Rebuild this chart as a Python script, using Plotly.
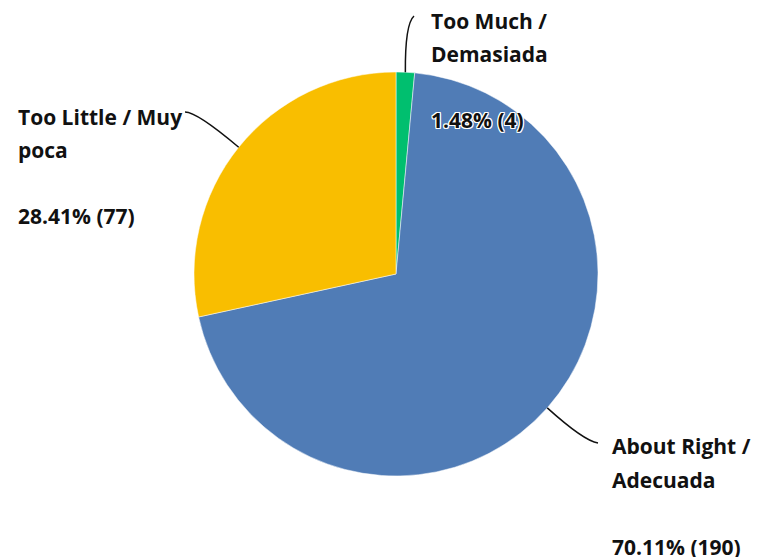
import math
import plotly.graph_objects as go

# ---- data ----
labels = ["Too Much / Demasiada", "About Right / Adecuada", "Too Little / Muy poca"]
name_lines = [["Too Much /", "Demasiada"], ["About Right /", "Adecuada"], ["Too Little / Muy", "poca"]]
counts = [4, 190, 77]
percents = [1.48, 70.11, 28.41]
colors = ["#00BF6F", "#507CB6", "#F9BE00"]

W, H = 761, 557
OFF = 8  # page body margin
cx, cy, R = 396, 274, 202

def px(x, y):
    return (x - OFF) / W, 1 - (y - OFF) / H

x0, y0 = px(cx - R, cy + R)
x1, y1 = px(cx + R, cy - R)

fig = go.Figure(go.Pie(
    labels=labels, values=counts, sort=False, direction="clockwise", rotation=0,
    marker=dict(colors=colors, line=dict(color="white", width=0.5)),
    textinfo="none", hoverinfo="label+percent+value", showlegend=False,
    domain=dict(x=[x0, x1], y=[y0, y1]),
))

# label text anchor (left x, y centers of name lines and percent line) and leader end
text_pos = [(430, [21, 54], 120), (611, [446, 480], 547), (17, [117, 150], 216)]
leader_end = [((414, 16), (405, 24)), ((598, 443), (584, 441)), ((185, 112), (197, 112))]

font = dict(family="Open Sans, Arial, sans-serif", size=21, color="#111111", weight="bold")
shadow = "1px 1px 0 #fff, -1px -1px 0 #fff, 1px -1px 0 #fff, -1px 1px 0 #fff, 0 1px 0 #fff, 0 -1px 0 #fff, 1px 0 0 #fff, -1px 0 0 #fff"

total = sum(counts)
cum = 0
shapes, annotations = [], []
for i, c in enumerate(counts):
    mid = (cum + c / 2) / total * 2 * math.pi
    cum += c
    ex, ey = cx + R * math.sin(mid), cy - R * math.cos(mid)
    (tx, ty), (qx, qy) = leader_end[i]
    p0, q, p1 = px(ex, ey), px(qx, qy), px(tx, ty)
    shapes.append(dict(type="path", xref="paper", yref="paper",
                       path=f"M {p0[0]} {p0[1]} Q {q[0]} {q[1]} {p1[0]} {p1[1]}",
                       line=dict(color="#111111", width=1.5)))
    lx, ys, py = text_pos[i]
    for line, yy in zip(name_lines[i], ys):
        x, y = px(lx, yy)
        annotations.append(dict(x=x, y=y, xref="paper", yref="paper", text=line, showarrow=False,
                                xanchor="left", yanchor="middle", borderpad=0, font=font))
    x, y = px(lx, py)
    annotations.append(dict(x=x, y=y, xref="paper", yref="paper",
                            text=f"{percents[i]:.2f}% ({c})", showarrow=False, borderpad=0,
                            xanchor="left", yanchor="middle", font=dict(font, shadow=shadow)))

fig.update_layout(width=W, height=H, margin=dict(l=0, r=0, t=0, b=0),
                  paper_bgcolor="white", plot_bgcolor="white",
                  shapes=shapes, annotations=annotations)
fig.write_html("out.html")
